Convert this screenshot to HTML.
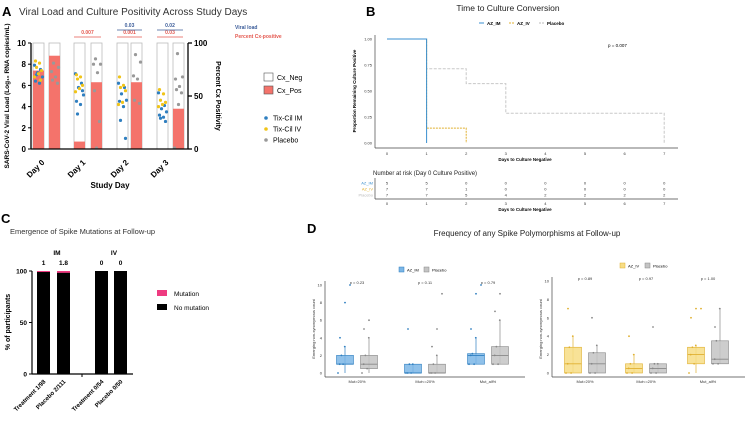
<!DOCTYPE html>
<html><head><meta charset="utf-8"><style>
body{margin:0;background:#fff;font-family:"Liberation Sans",sans-serif}
svg{display:block}
</style></head><body>
<svg id="s" width="750" height="425" viewBox="0 0 750 425" font-family="Liberation Sans, sans-serif"></svg>
<script>
// ---------- Panel A data ----------
const aDays=["Day 0","Day 1","Day 2","Day 3"];
const aPosTreat=[74,7,0,0];
const aPosPlac=[88,63,63,38];
const aIM=[[7.9,7.5,7.2,6.8,6.4,6.2,7.0],[7.1,6.2,5.8,5.1,4.5,4.2,3.3,5.5],[6.2,5.8,5.2,4.6,4.5,4.0,2.7,1.0],[5.3,4.1,3.8,3.5,3.2,3.0,2.9,2.6]];
const aIV=[[8.3,8.1,7.7,7.4,7.1,6.8,6.5],[7.0,6.8,6.6,6.0,5.7,5.4],[6.8,6.0,5.8,5.5,4.4,4.2],[5.6,5.2,4.6,4.4,4.2,4.0]];
const aPL=[[8.1,7.7,7.3,6.8,6.5,6.2],[8.5,8.0,8.0,7.2,5.5,2.6,0.1],[8.9,8.2,6.9,6.6,4.6,4.3],[9.0,6.8,6.6,5.9,5.6,5.3,4.2,0.1]];
// ---------- Panel B data ----------
const kmIM=[[0,1],[1,0]];
const kmIV=[[0,1],[1,0.143],[2,0]];
const kmPL=[[0,1],[1,0.714],[2,0.571],[3,0.286],[7,0]];
const riskIM=[5,5,0,0,0,0,0,0];
const riskIV=[7,7,1,0,0,0,0,0];
const riskPL=[7,7,5,4,2,2,2,2];
// ---------- Panel C data ----------
const cLabels=["Treatment  1/98","Placebo  2/111","Treatment  0/54","Placebo  0/50"];
const cMut=[1,1.8,0,0];
// ---------- Panel D data ----------
const dCats=["Mut>20%","Mut<=20%","Mut_all%"];
const dLeftTreat=[[0,1,1,2,3],[0,0,0,1,1],[1,1,2,2.2,4]];
const dLeftPlac=[[0,0.5,1,2,4],[0,0,0,1,2],[1,1,2,3,6]];
const dLeftTreatOut=[[4,8,10],[5],[5,9,10]];
const dLeftPlacOut=[[5,6],[3,5,9],[7,9]];
const dLeftP=["p = 0.23","p = 0.11","p = 0.79"];
const dRightTreat=[[0,0,1,2.8,4],[0,0,0.5,1,2],[0,1,2,2.8,3]];
const dRightPlac=[[0,0,1,2.2,3],[0,0,0.5,1,1],[1,1,1.5,3.5,7]];
const dRightTreatOut=[[7],[4],[6,7,7]];
const dRightPlacOut=[[6],[5],[5]];
const dRightP=["p = 0.89","p = 0.97","p = 1.00"];

const S=document.getElementById('s');const NS="http://www.w3.org/2000/svg";
function el(t,a,txt,p){const e=document.createElementNS(NS,t);for(const k in a)e.setAttribute(k,a[k]);if(txt!==undefined&&txt!==null)e.textContent=txt;(p||S).appendChild(e);return e;}
function nm(e,n,i){
return e;}
const jit=[0,6,3,8,1,5,2,7,4];

// ===== Panel A =====
let t=el('text',{x:2,y:16,'font-size':13,'font-weight':'bold'},'A');nm(t,'panel-a-label');
t=el('text',{x:19,y:15,'font-size':10,fill:'#333'},'Viral Load and Culture Positivity Across Study Days');nm(t,'panel-a-title');
const aY=v=>149-v*10.6, aP=v=>149-v*1.06;
const aX0=[33,74,117,157], bw=11;
aDays.forEach((d,i)=>{
 const x1=aX0[i], x2=x1+(i==0?16:i==1?17:i==2?14:16);
 [[x1,aPosTreat[i]],[x2,aPosPlac[i]]].forEach(([x,v],j)=>{
  let r=el('rect',{x:x,y:aP(100),width:bw,height:106,fill:'#fff',stroke:'#bbb','stroke-width':0.8});nm(r,'bar-neg-'+i+'-'+j);
  r=el('rect',{x:x,y:aP(v),width:bw,height:149-aP(v),fill:'#f4736b'});nm(r,'bar-pos-'+i+'-'+j);
 });
 const pts=(arr,x,off,c,nmx)=>arr.forEach((v,k)=>{let c2=el('circle',{cx:x+1.5+jit[(k+off)%9],cy:aY(v),r:1.6,fill:c});nm(c2,nmx);});
 pts(aIM[i],x1,0,'#2f7fc0','dot-im');pts(aIV[i],x1,4,'#f0c419','dot-iv');pts(aPL[i],x2,2,'#999','dot-placebo');
 t=el('text',{x:x1+12,y:163,'font-size':8,'font-weight':'bold','text-anchor':'end',transform:`rotate(-45 ${x1+12} 163)`},d);nm(t,'x-tick-'+i);
});
el('line',{x1:31,y1:43,x2:31,y2:149,stroke:'#000','stroke-width':1.3});
el('line',{x1:31,y1:149,x2:188,y2:149,stroke:'#000','stroke-width':1.3});
el('line',{x1:188,y1:43,x2:188,y2:149,stroke:'#000','stroke-width':1.3});
[0,2,4,6,8,10].forEach(v=>{el('line',{x1:28,y1:aY(v),x2:31,y2:aY(v),stroke:'#000'});t=el('text',{x:26,y:aY(v)+3,'font-size':8,'font-weight':'bold','text-anchor':'end'},v);nm(t,'y-tick');});
[0,50,100].forEach(v=>{el('line',{x1:188,y1:aP(v),x2:192,y2:aP(v),stroke:'#000','stroke-width':1.3});t=el('text',{x:194,y:aP(v)+3,'font-size':8,'font-weight':'bold'},v);nm(t,'y2-tick');});
t=el('text',{x:9,y:96,'font-size':6.5,'font-weight':'bold','text-anchor':'middle',transform:'rotate(-90 9 96)'},'SARS-CoV-2 Viral Load (Log₁₀ RNA copies/mL)');nm(t,'y-axis-title');
t=el('text',{x:216,y:96,'font-size':7,'font-weight':'bold','text-anchor':'middle',transform:'rotate(90 216 96)'},'Percent Cx Positivity');nm(t,'y2-axis-title');
t=el('text',{x:110,y:188,'font-size':8,'font-weight':'bold','text-anchor':'middle'},'Study Day');nm(t,'x-axis-title');
[[74,101,'0.007',34,'#e4584f'],[117,142,'0.001',34,'#e4584f'],[157,183,'0.03',34,'#e4584f'],[117,142,'0.03',27,'#3b5c99'],[157,183,'0.02',27,'#3b5c99']].forEach(([a,b,s,y,c])=>{el('line',{x1:a,y1:y+3,x2:b,y2:y+3,stroke:c,'stroke-width':0.8});t=el('text',{x:(a+b)/2,y:y,'font-size':5,'font-weight':'bold',fill:c,'text-anchor':'middle'},s);nm(t,'p-value');});
t=el('text',{x:235,y:29,'font-size':5,'font-weight':'bold',fill:'#3b5c99'},'Viral load');nm(t,'legend-viral-load');
t=el('text',{x:235,y:38,'font-size':5,'font-weight':'bold',fill:'#e4584f'},'Percent Cx-positive');nm(t,'legend-percent');
let r=el('rect',{x:264,y:73,width:9,height:8,fill:'#fff',stroke:'#555','stroke-width':0.6});nm(r,'legend-cx-neg');
t=el('text',{x:277,y:80,'font-size':7},'Cx_Neg');nm(t,'legend-cx-neg-label');
r=el('rect',{x:264,y:86,width:9,height:8,fill:'#f4736b',stroke:'#555','stroke-width':0.6});nm(r,'legend-cx-pos');
t=el('text',{x:277,y:93,'font-size':7},'Cx_Pos');nm(t,'legend-cx-pos-label');
[['Tix-Cil IM','#2f7fc0',118],['Tix-Cil IV','#f0c419',129],['Placebo','#999',140]].forEach(([s,c,y])=>{let e=el('circle',{cx:266,cy:y,r:1.8,fill:c});nm(e,'legend-dot');t=el('text',{x:273,y:y+2.5,'font-size':7},s);nm(t,'legend-group');});

// ===== Panel B =====
t=el('text',{x:366,y:16,'font-size':13,'font-weight':'bold'},'B');nm(t,'panel-b-label');
t=el('text',{x:508,y:11,'font-size':8.5,fill:'#222','text-anchor':'middle'},'Time to Culture Conversion');nm(t,'panel-b-title');
[['AZ_IM','#3a8fd0',487,''],['AZ_IV','#e0b030',517,'2,1'],['Placebo','#bbb',547,'2,1']].forEach(([s,c,x,d])=>{el('line',{x1:x-8,y1:23,x2:x-3,y2:23,stroke:c,'stroke-dasharray':d});t=el('text',{x:x,y:25,'font-size':4.5,'font-weight':'bold'},s);nm(t,'km-legend');});
const bX=d=>387+d*39.6, bY=p=>143-p*104;
el('line',{x1:375,y1:35,x2:375,y2:148,stroke:'#444','stroke-width':0.7});
el('line',{x1:375,y1:148,x2:678,y2:148,stroke:'#444','stroke-width':0.7});
[0,0.25,0.5,0.75,1].forEach(v=>{t=el('text',{x:372,y:bY(v)+1.5,'font-size':4,'text-anchor':'end',fill:'#333'},v.toFixed(2));nm(t,'km-y-tick');});
for(let d=0;d<=7;d++){t=el('text',{x:bX(d),y:155,'font-size':4,'text-anchor':'middle',fill:'#333'},d);nm(t,'km-x-tick');}
t=el('text',{x:525,y:161,'font-size':4.5,'font-weight':'bold','text-anchor':'middle'},'Days to Culture Negative');nm(t,'km-x-title');
t=el('text',{x:356,y:91,'font-size':4.5,'font-weight':'bold','text-anchor':'middle',transform:'rotate(-90 356 91)'},'Proportion Remaining Culture Positive');nm(t,'km-y-title');
t=el('text',{x:608,y:47,'font-size':4.5},'p = 0.007');nm(t,'km-p-value');
function step(pts,c,dash,n){let d='M'+bX(pts[0][0])+','+bY(pts[0][1]);for(let i=1;i<pts.length;i++){d+=' H'+bX(pts[i][0])+' V'+bY(pts[i][1]);}let p=el('path',{d:d,fill:'none',stroke:c,'stroke-width':1,'stroke-dasharray':dash});nm(p,n);}
step(kmPL,'#c8c8c8','3,1.5','km-placebo');step(kmIV,'#e0b030','2,1','km-iv');step(kmIM,'#3a8fd0','','km-im');
t=el('text',{x:373,y:175,'font-size':6,fill:'#222'},'Number at risk (Day 0 Culture Positive)');nm(t,'risk-title');
el('line',{x1:375,y1:178,x2:375,y2:199,stroke:'#444','stroke-width':0.7});
el('line',{x1:375,y1:199,x2:678,y2:199,stroke:'#444','stroke-width':0.7});
[['AZ_IM','#3a8fd0',riskIM,183],['AZ_IV','#e0b030',riskIV,189],['Placebo','#bbb',riskPL,195]].forEach(([s,c,arr,y])=>{t=el('text',{x:373,y:y+1.5,'font-size':4,fill:c,'text-anchor':'end'},s);nm(t,'risk-label');arr.forEach((v,d)=>{t=el('text',{x:bX(d),y:y+1.5,'font-size':4,'text-anchor':'middle',fill:'#333'},v);nm(t,'risk-count');});});
for(let d=0;d<=7;d++){t=el('text',{x:bX(d),y:205,'font-size':4,'text-anchor':'middle',fill:'#333'},d);nm(t,'risk-x-tick');}
t=el('text',{x:525,y:211,'font-size':4.5,'font-weight':'bold','text-anchor':'middle'},'Days to Culture Negative');nm(t,'risk-x-title');

// ===== Panel C =====
t=el('text',{x:1,y:223,'font-size':13,'font-weight':'bold'},'C');nm(t,'panel-c-label');
t=el('text',{x:10,y:234,'font-size':7.5,fill:'#333'},'Emergence of Spike Mutations at Follow-up');nm(t,'panel-c-title');
const cY=v=>374-v*1.03, cX=[37,57,95,114];
cLabels.forEach((s,i)=>{let b=el('rect',{x:cX[i],y:cY(100),width:13,height:103,fill:'#000'});nm(b,'bar-no-mutation-'+i);
 b=el('rect',{x:cX[i],y:cY(100),width:13,height:cMut[i]*1.03,fill:'#ee3b80'});nm(b,'bar-mutation-'+i);
 t=el('text',{x:cX[i]+9,y:382,'font-size':6,'font-weight':'bold','text-anchor':'end',transform:`rotate(-45 ${cX[i]+9} 382)`},s);nm(t,'c-x-tick');
 t=el('text',{x:cX[i]+6.5,y:265,'font-size':6.5,'font-weight':'bold','text-anchor':'middle'},cMut[i]);nm(t,'c-value-label');});
t=el('text',{x:57,y:255,'font-size':6.5,'font-weight':'bold','text-anchor':'middle'},'IM');nm(t,'group-im');
t=el('text',{x:114,y:255,'font-size':6.5,'font-weight':'bold','text-anchor':'middle'},'IV');nm(t,'group-iv');
el('line',{x1:32,y1:271,x2:32,y2:374,stroke:'#000','stroke-width':1.2});
el('line',{x1:32,y1:374,x2:133,y2:374,stroke:'#000','stroke-width':1.2});
el('line',{x1:82,y1:374,x2:82,y2:377,stroke:'#000','stroke-width':1});
[0,50,100].forEach(v=>{el('line',{x1:29,y1:cY(v),x2:32,y2:cY(v),stroke:'#000'});t=el('text',{x:27,y:cY(v)+2.5,'font-size':6.5,'font-weight':'bold','text-anchor':'end'},v);nm(t,'c-y-tick');});
t=el('text',{x:10,y:322,'font-size':7,'font-weight':'bold','text-anchor':'middle',transform:'rotate(-90 10 322)'},'% of participants');nm(t,'c-y-title');
r=el('rect',{x:157,y:290,width:10,height:6,fill:'#ee3b80'});nm(r,'legend-mutation');
t=el('text',{x:174,y:296,'font-size':6.5},'Mutation');nm(t,'legend-mutation-label');
r=el('rect',{x:157,y:304,width:10,height:6,fill:'#000'});nm(r,'legend-no-mutation');
t=el('text',{x:174,y:310,'font-size':6.5},'No mutation');nm(t,'legend-no-mutation-label');

// ===== Panel D =====
t=el('text',{x:307,y:233,'font-size':13,'font-weight':'bold'},'D');nm(t,'panel-d-label');
t=el('text',{x:527,y:236,'font-size':8,fill:'#222','text-anchor':'middle'},'Frequency of any Spike Polymorphisms at Follow-up');nm(t,'panel-d-title');
function boxPlot(ax0,axEnd,y10,cats,cx,treat,plac,tout,pout,pv,tc,tf,leg,legx,legy,side){
 const Y=v=>373-v*(373-y10)/10;
 el('line',{x1:ax0,y1:y10-4,x2:ax0,y2:377,stroke:'#444','stroke-width':0.7});
 el('line',{x1:ax0,y1:377,x2:axEnd,y2:377,stroke:'#444','stroke-width':0.7});
 [0,2,4,6,8,10].forEach(v=>{t=el('text',{x:ax0-3,y:Y(v)+1.5,'font-size':4,'text-anchor':'end',fill:'#333'},v);nm(t,'d-y-tick');});
 t=el('text',{x:ax0-10,y:329,'font-size':4,'text-anchor':'middle',fill:'#333',transform:`rotate(-90 ${ax0-10} 329)`},'Emerging non-synonymous count');nm(t,'d-y-title');
 cats.forEach((c,i)=>{t=el('text',{x:cx[i],y:383,'font-size':4,'text-anchor':'middle',fill:'#333'},c);nm(t,'d-x-tick');
  t=el('text',{x:cx[i],y:y10-1,'font-size':4,'text-anchor':'middle',fill:'#333'},pv[i]);nm(t,'d-p-value');
  [[treat[i],tout[i],cx[i]-12,tf,tc,side+'-treat'],[plac[i],pout[i],cx[i]+12,'#c4c4c4','#888',side+'-placebo']].forEach(([q,o,x,f,sc,n])=>{
   el('line',{x1:x,y1:Y(q[0]),x2:x,y2:Y(q[4]),stroke:sc,'stroke-width':0.7});
   let b=el('rect',{x:x-8.5,y:Y(q[3]),width:17,height:Math.max(0.5,Y(q[1])-Y(q[3])),fill:f,stroke:sc,'stroke-width':0.6,'fill-opacity':0.85});nm(b,'box-'+n+'-'+i);
   el('line',{x1:x-8.5,y1:Y(q[2]),x2:x+8.5,y2:Y(q[2]),stroke:sc,'stroke-width':0.9});
   q.forEach((v,k)=>{let p=el('circle',{cx:x-7+jit[(k*2)%9]*1.7,cy:Y(v),r:0.9,fill:sc});nm(p,'d-point');});
   o.forEach((v,k)=>{let p=el('circle',{cx:x-5+((k*5)%11),cy:Y(v),r:0.9,fill:sc});nm(p,'d-outlier');});
  });
 });
 let lr=el('rect',{x:legx,y:legy-3,width:5,height:5,fill:tf,stroke:tc,'stroke-width':0.5});nm(lr,'d-legend-treat');
 t=el('text',{x:legx+8,y:legy+1.5,'font-size':4},leg);nm(t,'d-legend-treat-label');
 lr=el('rect',{x:legx+25,y:legy-3,width:5,height:5,fill:'#c4c4c4',stroke:'#888','stroke-width':0.5});nm(lr,'d-legend-placebo');
 t=el('text',{x:legx+33,y:legy+1.5,'font-size':4},'Placebo');nm(t,'d-legend-placebo-label');
}
boxPlot(325,525,285,dCats,[357,425,488],dLeftTreat,dLeftPlac,dLeftTreatOut,dLeftPlacOut,dLeftP,'#2f7fc0','#7bb6e6','AZ_IM',399,270,'im');
boxPlot(552,745,281,dCats,[585,646,708],dRightTreat,dRightPlac,dRightTreatOut,dRightPlacOut,dRightP,'#e0b030','#f7dd85','AZ_IV',620,266,'iv');
</script>
</body></html>
